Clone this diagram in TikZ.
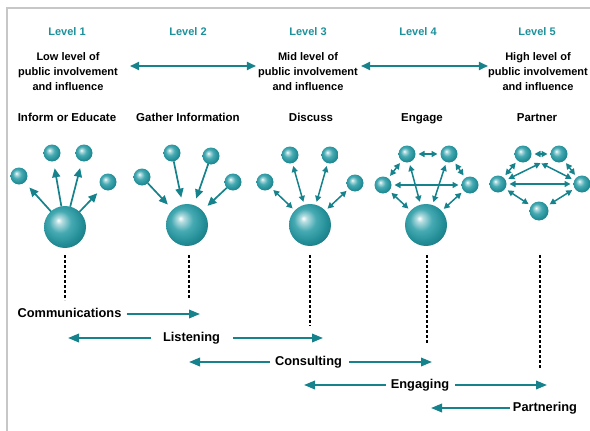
\documentclass[tikz,border=0pt]{standalone}
\usepackage{fontspec}
\setmainfont{Liberation Sans}
\usetikzlibrary{arrows.meta}
\definecolor{tealA}{RGB}{22,130,140}
\definecolor{tealL}{RGB}{28,145,155}
\definecolor{ballC}{RGB}{38,155,165}
\pgfdeclareradialshading{tealball}{\pgfpoint{-8bp}{8bp}}{%
  color(0bp)=(white); color(4bp)=(ballC!35!white); color(13bp)=(ballC!85!white);
  color(24bp)=(ballC!92!black); color(30bp)=(ballC!80!black); color(50bp)=(ballC!80!black)}
\begin{document}
\begin{tikzpicture}[x=1pt,y=-1pt,
  bigball/.style={circle, minimum size=42pt, inner sep=0pt, outer sep=0pt, shading=tealball},
  smallball/.style={circle, minimum size=17pt, inner sep=0pt, outer sep=0pt, shading=tealball},
  lvl/.style={text=tealL, font=\fontsize{11}{13}\selectfont\bfseries},
  desc/.style={align=center, inner sep=0pt, font=\fontsize{11}{15}\selectfont\bfseries},
  ttl/.style={inner sep=0pt, text height=8.5pt, text depth=2.5pt, font=\fontsize{11.5}{13}\selectfont\bfseries},
  blab/.style={inner sep=0pt, text height=9pt, text depth=2.5pt, font=\fontsize{12.8}{14}\selectfont\bfseries},
  bal/.style={-{Triangle[length=9pt,width=8pt]}, draw=tealA, fill=tealA, line width=1.7pt},
  dbl/.style={{Triangle[length=6pt,width=6pt]}-{Triangle[length=6pt,width=6pt]}, draw=tealA, fill=tealA, line width=1.5pt, shorten >=3pt, shorten <=3pt},
  topdbl/.style={{Triangle[length=9pt,width=8pt]}-{Triangle[length=9pt,width=8pt]}, draw=tealA, fill=tealA, line width=1.8pt},
  bigarrow/.style={-{Triangle[length=11pt,width=8.5pt]}, draw=tealA, fill=tealA, line width=2pt},
  vdashline/.style={black, line width=1.6pt, dash pattern=on 3pt off 2pt}
]
\useasboundingbox (0,0) rectangle (590,431);
\draw[black!22, line width=1.2pt] (7,431) -- (7,8) -- (590,8);

% Level labels
\node[lvl] (L1) at (67,32) {Level 1};
\node[lvl] (L2) at (188,32) {Level 2};
\node[lvl] (L3) at (308,32) {Level 3};
\node[lvl] (L4) at (418,32) {Level 4};
\node[lvl] (L5) at (537,32) {Level 5};

% descriptions
\node[desc] (D1) at (68,72) {Low level of\\public involvement\\and influence};
\node[desc] (D3) at (308,72) {Mid level of\\public involvement\\and influence};
\node[desc] (D5) at (538,72) {High level of\\public involvement\\and influence};
\draw[topdbl, shorten <=12pt, shorten >=2pt] ([yshift=6pt]D1.east) -- ([yshift=6pt]D3.west);
\draw[topdbl, shorten <=3pt, shorten >=0pt] ([yshift=6pt]D3.east) -- ([yshift=6pt]D5.west);

% titles
\node[ttl] (T1) at (67,118) {Inform or Educate};
\node[ttl] (T2) at (188,118) {Gather Information};
\node[ttl] (T3) at (311,118) {Discuss};
\node[ttl] (T4) at (422,118) {Engage};
\node[ttl] (T5) at (537,118) {Partner};

% Level 1
\node[bigball] (B1) at (65,227) {};
\node[smallball] (a1) at (19,176) {};
\node[smallball] (a2) at (52,153) {};
\node[smallball] (a3) at (84,153) {};
\node[smallball] (a4) at (108,182) {};
\foreach \s in {a1,a2,a3,a4} \draw[bal, shorten >=7pt] (B1) -- (\s);

% Level 2
\node[bigball] (B2) at (187,225) {};
\node[smallball] (b1) at (142,177) {};
\node[smallball] (b2) at (172,153) {};
\node[smallball] (b3) at (211,156) {};
\node[smallball] (b4) at (233,182) {};
\foreach \s in {b1,b2,b3,b4} \draw[bal, shorten >=7pt] (\s) -- (B2);

% Level 3
\node[bigball] (B3) at (310,225) {};
\node[smallball] (c1) at (265,182) {};
\node[smallball] (c2) at (290,155) {};
\node[smallball] (c3) at (330,155) {};
\node[smallball] (c4) at (355,183) {};
\foreach \s in {c1,c2,c3,c4} \draw[dbl] (\s) -- (B3);

% Level 4
\node[bigball] (B4) at (426,225) {};
\node[smallball] (d1) at (407,154) {};
\node[smallball] (d2) at (449,154) {};
\node[smallball] (d3) at (383,185) {};
\node[smallball] (d4) at (470,185) {};
\draw[dbl] (d1) -- (d2);
\draw[dbl] (d1) -- (d3);
\draw[dbl] (d2) -- (d4);
\draw[dbl] (d3) -- (d4);
\draw[dbl] (d3) -- (B4);
\draw[dbl] (d4) -- (B4);
\draw[dbl] (d1) -- (B4);
\draw[dbl] (d2) -- (B4);

% Level 5
\node[smallball] (e1) at (523,154) {};
\node[smallball] (e2) at (559,154) {};
\node[smallball] (e3) at (498,184) {};
\node[smallball] (e4) at (582,184) {};
\node[smallball, minimum size=19pt] (e5) at (539,211) {};
\draw[dbl] (e1) -- (e2);
\draw[dbl] (e1) -- (e3);
\draw[dbl] (e2) -- (e4);
\draw[dbl] (e3) -- (e4);
\draw[dbl] (e3) -- (e5);
\draw[dbl] (e4) -- (e5);
\draw[dbl, shorten >=12pt] (e3) -- (e2);
\draw[dbl, shorten >=12pt] (e4) -- (e1);

% dashed verticals
\coordinate (v1t) at (65,255);  \coordinate (v1b) at (65,300);
\coordinate (v2t) at (189,255); \coordinate (v2b) at (189,298);
\coordinate (v3t) at (310,255); \coordinate (v3b) at (310,326);
\coordinate (v4t) at (427,255); \coordinate (v4b) at (427,343);
\coordinate (v5t) at (540,255); \coordinate (v5b) at (540,369);
\foreach \i in {1,...,5} \draw[vdashline] (v\i t) -- (v\i b);

% bottom rows
\node[blab] (comm) at (69.5,314) {Communications};
\coordinate (commR) at (200,314);
\draw[bigarrow, shorten <=5pt] (comm.east) -- (commR);

\node[blab] (list) at (191.5,338) {Listening};
\coordinate (listL) at (68,338);
\coordinate (listR) at (323,338);
\draw[bigarrow, shorten <=12pt] (list.west) -- (listL);
\draw[bigarrow, shorten <=13pt] (list.east) -- (listR);

\node[blab] (cons) at (308.5,362) {Consulting};
\coordinate (consL) at (189,362);
\coordinate (consR) at (432,362);
\draw[bigarrow, shorten <=5pt] (cons.west) -- (consL);
\draw[bigarrow, shorten <=7pt] (cons.east) -- (consR);

\node[blab] (enga) at (420,385) {Engaging};
\coordinate (engaL) at (304,385);
\coordinate (engaR) at (547,385);
\draw[bigarrow, shorten <=5pt] (enga.west) -- (engaL);
\draw[bigarrow, shorten <=6pt] (enga.east) -- (engaR);

\node[blab] (part) at (545,408) {Partnering};
\coordinate (partL) at (431,408);
\draw[bigarrow, shorten <=3pt] (part.west) -- (partL);
\end{tikzpicture}
\end{document}
